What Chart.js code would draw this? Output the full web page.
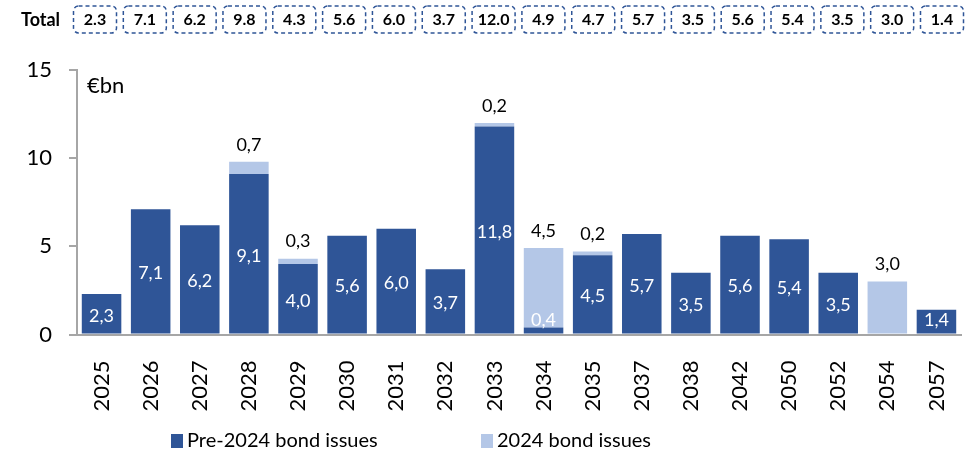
<!DOCTYPE html>
<html>
<head>
<meta charset="utf-8">
<script src="https://cdn.jsdelivr.net/npm/chart.js@4/dist/chart.umd.min.js"></script>
<style>
html,body{margin:0;padding:0;background:#fff;}
canvas{display:block;}
</style>
</head>
<body>
<canvas id="c" width="975" height="453"></canvas>
<script>
const categories = ['2025','2026','2027','2028','2029','2030','2031','2032','2033','2034','2035','2037','2038','2042','2050','2052','2054','2057'];
const pre2024Issues = [2.3, 7.1, 6.2, 9.1, 4.0, 5.6, 6.0, 3.7, 11.8, 0.4, 4.5, 5.7, 3.5, 5.6, 5.4, 3.5, 0, 1.4];
const issues2024 = [0, 0, 0, 0.7, 0.3, 0, 0, 0, 0.2, 4.5, 0.2, 0, 0, 0, 0, 0, 3.0, 0];
const totals = ['2.3','7.1','6.2','9.8','4.3','5.6','6.0','3.7','12.0','4.9','4.7','5.7','3.5','5.6','5.4','3.5','3.0','1.4'];
const yTickValues = [0, 5, 10, 15];
const seriesNames = ['Pre-2024 bond issues', '2024 bond issues'];
const unitLabel = '€bn';

const DARK = '#2F5597';
const LIGHT = '#B4C7E7';
const AXIS = '#A6A6A6';
const FONT = 'Lato, "Open Sans", sans-serif';

function fmt(v){ return v.toFixed(1).replace('.', ','); }

const overlay = {
  id: 'overlay',
  afterDraw(chart){
    const ctx = chart.ctx;
    ctx.save();
    // Unit label
    ctx.fillStyle = '#000';
    ctx.font = '22px ' + FONT;
    ctx.textAlign = 'left';
    ctx.textBaseline = 'middle';
    ctx.fillText(unitLabel, chart.chartArea.left + 10, 86);

    // Data labels
    const m0 = chart.getDatasetMeta(0), m1 = chart.getDatasetMeta(1);
    ctx.font = '18px ' + FONT;
    ctx.textAlign = 'center';
    m0.data.forEach((el, i) => {
      const v = pre2024Issues[i];
      if (!v) return;
      const cy = Math.min((el.y + el.base) / 2 + 2, el.base - 13);
      ctx.fillStyle = '#fff';
      ctx.fillText(fmt(v), el.x, cy);
    });
    m1.data.forEach((el, i) => {
      const v = issues2024[i];
      if (!v) return;
      ctx.fillStyle = '#000';
      ctx.fillText(fmt(v), el.x, el.y - 17);
    });

    // Totals row
    ctx.font = 'bold 18px ' + FONT;
    ctx.textAlign = 'left';
    ctx.fillStyle = '#000';
    ctx.fillText('Total', 21, 20);
    const n = totals.length;
    const boxW = 43, boxH = 27, firstC = 95, lastC = 942;
    const pitch = (lastC - firstC) / (n - 1);
    totals.forEach((t, i) => {
      const cx = firstC + pitch * i;
      ctx.strokeStyle = DARK;
      ctx.lineWidth = 1.5;
      ctx.setLineDash([4, 3]);
      ctx.beginPath();
      ctx.roundRect(cx - boxW / 2, 6, boxW, boxH, 5);
      ctx.stroke();
      ctx.setLineDash([]);
      ctx.fillStyle = '#000';
      ctx.font = 'bold 16px ' + FONT;
      ctx.textAlign = 'center';
      ctx.fillText(t, cx, 20);
    });

    // Legend
    const legendItems = [{x: 171, color: DARK}, {x: 481, color: LIGHT}];
    ctx.font = '20px ' + FONT;
    ctx.textAlign = 'left';
    legendItems.forEach((it, k) => {
      ctx.fillStyle = it.color;
      ctx.fillRect(it.x, 434, 12, 14);
      ctx.fillStyle = '#000';
      ctx.fillText(seriesNames[k], it.x + 16, 441);
    });
    ctx.restore();
  }
};

new Chart(document.getElementById('c'), {
  type: 'bar',
  data: {
    labels: categories,
    datasets: [
      {label: seriesNames[0], data: pre2024Issues, backgroundColor: DARK, borderWidth: 0, categoryPercentage: 0.805, barPercentage: 1},
      {label: seriesNames[1], data: issues2024, backgroundColor: LIGHT, borderWidth: 0, categoryPercentage: 0.805, barPercentage: 1}
    ]
  },
  options: {
    responsive: false,
    animation: false,
    layout: {padding: {left: 0, right: 14, top: 70, bottom: 0}},
    plugins: {legend: {display: false}, tooltip: {enabled: false}},
    scales: {
      x: {
        stacked: true,
        grid: {display: false},
        border: {display: true, color: AXIS, width: 2},
        ticks: {minRotation: 90, maxRotation: 90, padding: 18, color: '#000', font: {family: FONT, size: 22}},
        afterFit(s){ s.height = 118.5; s.paddingLeft = 0; s.paddingRight = 0; }
      },
      y: {
        stacked: true,
        min: 0, max: 15,
        afterBuildTicks(s){ s.ticks = yTickValues.map(v => ({value: v})); },
        grid: {display: true, drawOnChartArea: false, drawTicks: true, tickLength: 8, color: AXIS, lineWidth: 2},
        border: {display: true, color: AXIS, width: 2},
        ticks: {padding: 17, color: '#000', font: {family: FONT, size: 22}},
        afterFit(s){ s.width = 77; s.paddingTop = 0; s.paddingBottom = 0; }
      }
    }
  },
  plugins: [overlay]
});
</script>
</body>
</html>
